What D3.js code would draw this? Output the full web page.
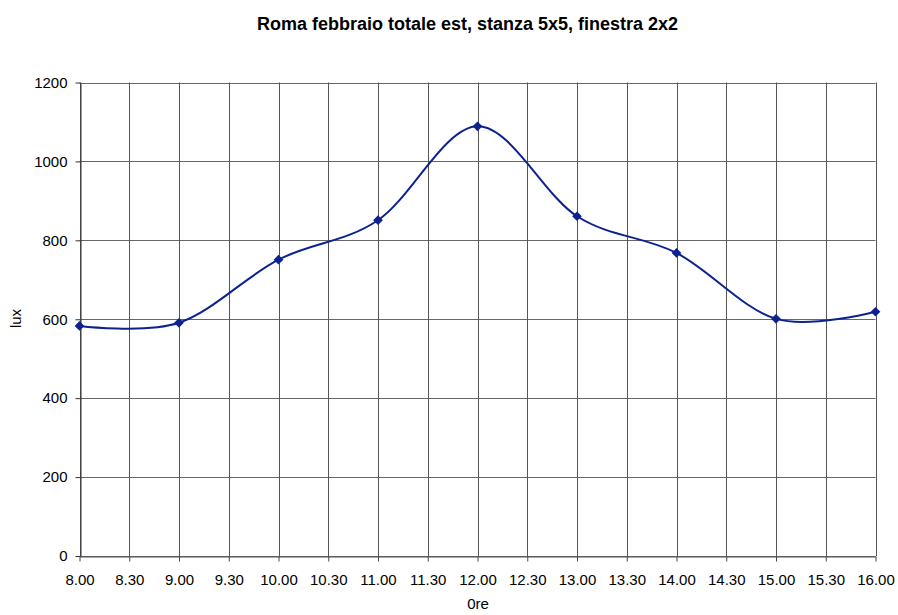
<!DOCTYPE html>
<html><head><meta charset="utf-8">
<script src="https://cdn.jsdelivr.net/npm/d3@7"></script>
<style>body{margin:0;background:#fff;} text{font-family:"Liberation Sans",Arial,sans-serif;}</style>
</head><body>
<svg id="c" width="898" height="615"></svg>
<script>
const categories = ["8.00","8.30","9.00","9.30","10.00","10.30","11.00","11.30","12.00","12.30","13.00","13.30","14.00","14.30","15.00","15.30","16.00"];
const pointHours = ["8.00","9.00","10.00","11.00","12.00","13.00","14.00","15.00","16.00"];
const luxValues = [583, 591, 751, 851, 1089, 861, 768, 601, 619];
const yTicks = [0,200,400,600,800,1000,1200];
const title = "Roma febbraio totale est, stanza 5x5, finestra 2x2";

const svg = d3.select("#c");
const L=79.5, R=875.5, T=82.5, B=556;
const x = d3.scalePoint().domain(categories).range([L,R]);
const y = d3.scaleLinear().domain([0,1200]).range([B,T]);
const col = "#0c2291";

// grid
const g = svg.append("g");
g.selectAll(".hg").data(yTicks).join("line")
  .attr("x1",L).attr("x2",R).attr("y1",d=>Math.round(y(d))+0.5).attr("y2",d=>Math.round(y(d))+0.5)
  .attr("stroke","#666").attr("stroke-width",1);
g.selectAll(".vg").data(categories).join("line")
  .attr("y1",T).attr("y2",B).attr("x1",d=>Math.round(x(d))+0.5).attr("x2",d=>Math.round(x(d))+0.5)
  .attr("stroke","#555").attr("stroke-width",1);

// axes
const ya = svg.append("g").attr("transform",`translate(${Math.round(L)+0.5},0)`)
  .call(d3.axisLeft(y).tickValues(yTicks).tickSize(5).tickSizeOuter(0).tickPadding(8).tickFormat(d3.format("d")));
ya.select(".domain").attr("stroke","#333");
ya.selectAll(".tick line").attr("stroke","#333");
ya.selectAll("text").attr("font-size",15).attr("fill","#000").attr("font-family","Liberation Sans, Arial");

const xa = svg.append("g").attr("transform",`translate(0,${Math.round(B)+0.5})`)
  .call(d3.axisBottom(x).tickSize(5).tickSizeOuter(0).tickPadding(13));
xa.select(".domain").attr("stroke","#555");
xa.selectAll(".tick line").attr("stroke","#444");
xa.selectAll("text").attr("font-size",15).attr("fill","#000").attr("font-family","Liberation Sans, Arial");

// line
const pts = pointHours.map((h,i)=>[x(h), y(luxValues[i])]);
svg.append("path").datum(pts)
  .attr("d", d3.line().curve(d3.curveCardinal.tension(0)))
  .attr("fill","none").attr("stroke",col).attr("stroke-width",2);
svg.selectAll(".mk").data(pts).join("path")
  .attr("d", d3.symbol(d3.symbolDiamond2, 60)())
  .attr("transform", d=>`translate(${d[0]},${d[1]})`)
  .attr("fill",col);

// texts
svg.append("text").attr("x",467.5).attr("y",29.5).attr("text-anchor","middle")
  .attr("font-size",18).attr("font-weight","bold").text(title);
svg.append("text").attr("x",478).attr("y",609).attr("text-anchor","middle")
  .attr("font-size",15).text("0re");
svg.append("text").attr("transform","translate(21,318.5) rotate(-90)").attr("text-anchor","middle")
  .attr("font-size",15).text("lux");
</script>
</body></html>
